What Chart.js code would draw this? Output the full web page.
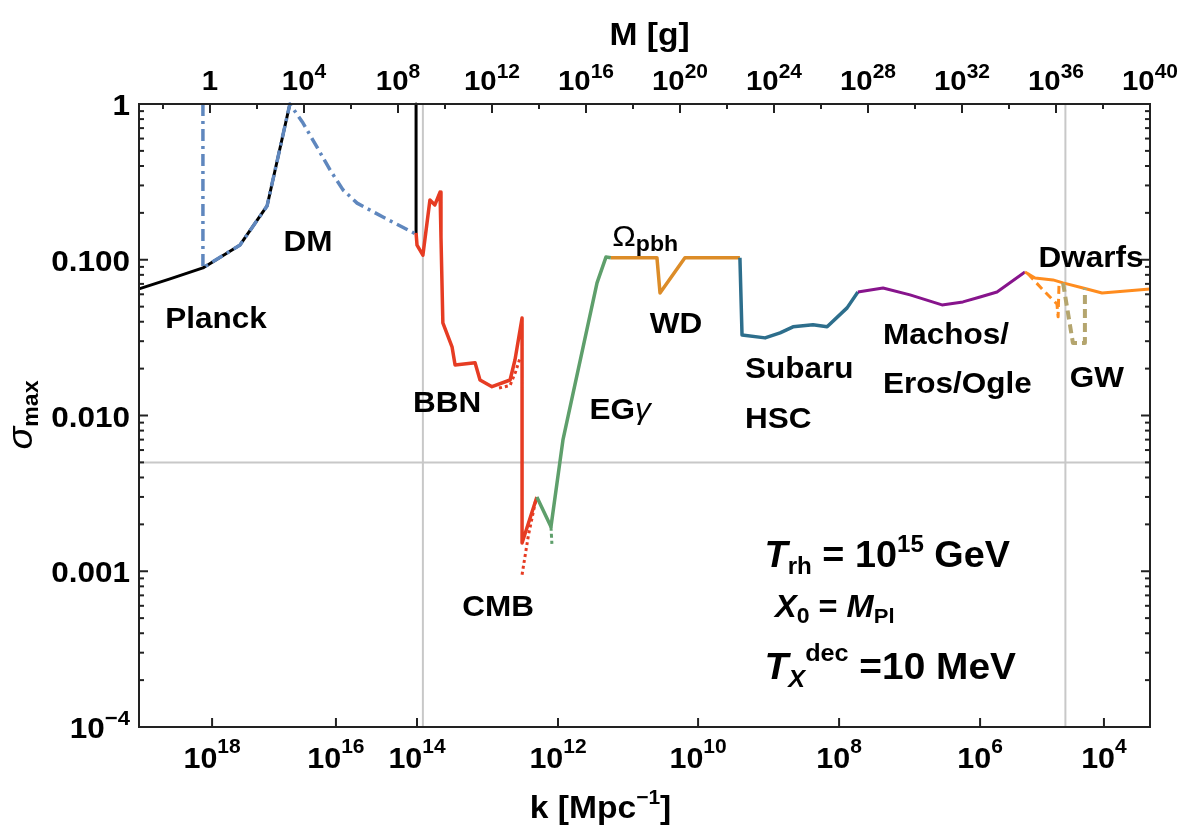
<!DOCTYPE html>
<html>
<head>
<meta charset="utf-8">
<script src="https://cdn.jsdelivr.net/npm/chart.js@4.4.1/dist/chart.umd.min.js"></script>
<style>
  html, body { margin: 0; padding: 0; background: #fff; }
  #wrap { width: 1200px; height: 840px; }
</style>
</head>
<body>
<div id="wrap"><canvas id="sigmaChart" width="1200" height="840"></canvas></div>
<script>
// x values are log10(M / g), y values are sigma_max
const planckLogM = [-3.02, -1.70, -0.30, 1.28, 2.43, 3.40];
const planckSigma = [0.065, 0.0753, 0.0886, 0.1245, 0.2215, 1.0];

const cutoffLogM = [8.77, 8.77];
const cutoffSigma = [1.0, 0.149];

const dmLogM = [-0.30, -0.30, 1.28, 2.43, 3.40, 3.96, 4.55, 5.11, 5.66, 6.26, 7.36, 8.77];
const dmSigma = [1.0, 0.0886, 0.1245, 0.2215, 1.0, 0.755, 0.53, 0.377, 0.281, 0.231, 0.188, 0.146];

const bbnLogM = [8.77, 8.81, 9.06, 9.36, 9.57, 9.79, 9.83, 9.91, 10.30, 10.43, 11.28, 11.49, 12.0, 12.77, 12.98, 13.28, 13.28, 13.91];
const bbnSigma = [0.149, 0.124, 0.107, 0.242, 0.225, 0.272, 0.140, 0.0393, 0.0276, 0.0211, 0.0218, 0.0169, 0.0153, 0.0169, 0.0228, 0.0423, 0.00152, 0.0030];

const bbnDotLogM = [12.3, 12.77, 13.0, 13.2];
const bbnDotSigma = [0.0150, 0.0156, 0.0190, 0.0235];

const cmbDotLogM = [13.28, 13.55, 13.85];
const cmbDotSigma = [0.00095, 0.0017, 0.0028];

const egLogM = [13.91, 14.51, 15.02, 16.47, 16.85, 17.06];
const egSigma = [0.0030, 0.00193, 0.00697, 0.0710, 0.104, 0.103];

const egDashLogM = [14.51, 14.55];
const egDashSigma = [0.00193, 0.00150];

const omegaLogM = [17.06, 19.02, 19.15, 20.21, 22.55];
const omegaSigma = [0.103, 0.103, 0.0612, 0.103, 0.103];

const subaruLogM = [22.55, 22.64, 23.62, 24.26, 24.81, 25.66, 26.26, 27.11, 27.57];
const subaruSigma = [0.103, 0.0329, 0.0315, 0.0339, 0.0371, 0.0382, 0.0371, 0.0491, 0.0621];

const machoLogM = [27.57, 28.64, 29.79, 31.15, 32.04, 32.77, 33.49, 34.68];
const machoSigma = [0.0621, 0.0659, 0.0595, 0.0513, 0.0536, 0.0577, 0.0621, 0.0835];

const dwarfLogM = [34.68, 35.11, 35.87, 36.30, 37.15, 37.96, 40.0];
const dwarfSigma = [0.0835, 0.0764, 0.0742, 0.0710, 0.0659, 0.0612, 0.0650];

const dwarfDashLogM = [34.80, 35.45, 36.04, 36.09, 36.13];
const dwarfDashSigma = [0.0815, 0.0639, 0.0520, 0.0430, 0.0710];

const gwLogM = [36.30, 36.72, 37.23, 37.23];
const gwSigma = [0.0710, 0.0292, 0.0292, 0.0659];

// axes: top axis is M, bottom axis is k (placed at the matching M)
const massTickExp = [0, 4, 8, 12, 16, 20, 24, 28, 32, 36, 40];
const massMinorExp = [-2, 2, 6, 10, 14, 18, 22, 26, 30, 34, 38];
const kTickExp = [18, 16, 14, 12, 10, 8, 6, 4];
const kTickLogM = [0.09, 5.36, 8.81, 14.81, 20.77, 26.77, 32.77, 38.04];
const sigmaTicks = [1, 0.1, 0.01, 0.001, 0.0001];
const sigmaTickLabels = ['1', '0.100', '0.010', '0.001', null];

const guideLogM = [9.06, 36.4];
const guideSigma = [0.005];

const FONT = '"Liberation Sans", Arial, sans-serif';
const SX = 1.05;
const b = s => `bold ${s}px ${FONT}`;
const bi = s => `italic bold ${s}px ${FONT}`;

function runsWidth(ctx, runs) {
    let w = 0;
    runs.forEach(r => { ctx.font = r.font; w += ctx.measureText(r.text).width; });
    return w * SX;
}

function drawRuns(ctx, runs, x, y, align) {
    const w = runsWidth(ctx, runs);
    let x0 = x;
    if (align === 'center') x0 = x - w / 2;
    if (align === 'right') x0 = x - w;
    ctx.save();
    ctx.translate(x0, y);
    ctx.scale(SX, 1);
    ctx.textAlign = 'left';
    ctx.textBaseline = 'alphabetic';
    ctx.fillStyle = '#000';
    let cx = 0;
    runs.forEach(r => {
        ctx.font = r.font;
        ctx.fillText(r.text, cx, r.dy || 0);
        cx += ctx.measureText(r.text).width;
    });
    ctx.restore();
}

function pow10(n, base, sup, rise) {
    if (n === 0) return [{ text: '1', font: b(base) }];
    return [
        { text: '10', font: b(base) },
        { text: String(n).replace('-', '\u2212'), font: b(sup), dy: -rise }
    ];
}

const labels = [
    { at: [0.26, 0.0365], align: 'center', runs: [{ text: 'Planck', font: b(30) }] },
    { at: [4.17, 0.1138], align: 'center', runs: [{ text: 'DM', font: b(30) }] },
    { at: [10.09, 0.01052], align: 'center', runs: [{ text: 'BBN', font: b(30) }] },
    { at: [12.26, 0.000516], align: 'center', runs: [{ text: 'CMB', font: b(30) }] },
    { at: [17.45, 0.0095], align: 'center', runs: [{ text: 'EG', font: b(30) }, { text: '\u03b3', font: `italic 30px ${FONT}` }] },
    { at: [17.12, 0.1226], align: 'left', runs: [{ text: '\u03a9', font: `30px ${FONT}` }, { text: 'pbh', font: b(22), dy: 5 }] },
    { at: [19.83, 0.0339], align: 'center', runs: [{ text: 'WD', font: b(30) }] },
    { at: [22.77, 0.0174], align: 'left', runs: [{ text: 'Subaru', font: b(30) }] },
    { at: [22.77, 0.00831], align: 'left', runs: [{ text: 'HSC', font: b(30) }] },
    { at: [28.64, 0.0288], align: 'left', runs: [{ text: 'Machos/', font: b(30) }] },
    { at: [28.64, 0.01394], align: 'left', runs: [{ text: 'Eros/Ogle', font: b(30) }] },
    { at: [37.49, 0.0898], align: 'center', runs: [{ text: 'Dwarfs', font: b(30) }] },
    { at: [37.74, 0.01524], align: 'center', runs: [{ text: 'GW', font: b(30) }] },
    { at: [23.6, 0.001064], align: 'left', runs: [
        { text: 'T', font: bi(36) }, { text: 'rh', font: b(23), dy: 7 },
        { text: ' = 10', font: b(36) }, { text: '15', font: b(23), dy: -15 },
        { text: ' GeV', font: b(36) }] },
    { at: [24.04, 0.000508], align: 'left', runs: [
        { text: 'X', font: bi(31) }, { text: '0', font: b(22), dy: 6 },
        { text: ' = ', font: b(31) }, { text: 'M', font: bi(31) },
        { text: 'Pl', font: b(21), dy: 6 }] },
    { at: [23.6, 0.000203], align: 'left', runs: [
        { text: 'T', font: bi(37) }, { text: 'X', font: bi(24), dy: 8 },
        { text: 'dec', font: b(24), dy: -18 }, { text: ' =10 MeV', font: b(37) }] }
];

function series(logM, sigma, color, width, dash) {
    return {
        data: logM.map((v, i) => ({ x: v, y: sigma[i] })),
        showLine: true,
        borderColor: color,
        borderWidth: width,
        borderDash: dash || [],
        borderJoinStyle: 'round',
        pointRadius: 0,
        fill: false,
        clip: 4
    };
}

const red = '#e63c23';
const datasets = [
    series(gwLogM, gwSigma, '#b4a56e', 4, [9, 5]),
    series(dwarfDashLogM, dwarfDashSigma, '#ff8c1e', 3, [8, 5]),
    series(dwarfLogM, dwarfSigma, '#ff8c1e', 3),
    series(machoLogM, machoSigma, '#87148c', 3),
    series(subaruLogM, subaruSigma, '#2d6e8c', 3.5),
    series(omegaLogM, omegaSigma, '#dc8c28', 3.5),
    series(egDashLogM, egDashSigma, '#5e9f6b', 3, [4, 3]),
    series(egLogM, egSigma, '#5e9f6b', 3.5),
    series(cmbDotLogM, cmbDotSigma, red, 3, [3, 3]),
    series(bbnDotLogM, bbnDotSigma, red, 3, [3, 3]),
    series(bbnLogM, bbnSigma, red, 3.5),
    series(dmLogM, dmSigma, '#5f87be', 3.5, [12, 5, 3, 5]),
    series(planckLogM, planckSigma, '#000', 3),
    series(cutoffLogM, cutoffSigma, '#000', 3)
];

function seg(ctx, x1, y1, x2, y2) {
    ctx.beginPath();
    ctx.moveTo(x1, y1);
    ctx.lineTo(x2, y2);
    ctx.stroke();
}

const guidePlugin = {
    id: 'guides',
    beforeDatasetsDraw(chart) {
        const { ctx, chartArea: a, scales: { x, y } } = chart;
        ctx.save();
        ctx.strokeStyle = '#c8c8c8';
        ctx.lineWidth = 2;
        guideLogM.forEach(v => { const px = x.getPixelForValue(v); seg(ctx, px, a.top, px, a.bottom); });
        guideSigma.forEach(v => { const py = y.getPixelForValue(v); seg(ctx, a.left, py, a.right, py); });
        ctx.restore();
    }
};

const framePlugin = {
    id: 'frame',
    afterDraw(chart) {
        const { ctx, chartArea: a, scales: { x, y } } = chart;
        ctx.save();
        ctx.strokeStyle = '#222';
        ctx.lineWidth = 2;
        ctx.strokeRect(a.left, a.top, a.right - a.left, a.bottom - a.top);

        // top axis (M)
        massTickExp.forEach(e => {
            const px = x.getPixelForValue(e);
            seg(ctx, px, a.top, px, a.top + 9);
            drawRuns(ctx, pow10(e, 28, 20, 12), px, a.top - 14, 'center');
        });
        massMinorExp.forEach(e => {
            const px = x.getPixelForValue(e);
            seg(ctx, px, a.top, px, a.top + 5);
        });

        // bottom axis (k)
        kTickLogM.forEach((v, i) => {
            const px = x.getPixelForValue(v);
            seg(ctx, px, a.bottom, px, a.bottom - 9);
            drawRuns(ctx, pow10(kTickExp[i], 29, 20, 15), px, a.bottom + 41, 'center');
        });

        // left and right axes (sigma)
        for (let e = -4; e <= 0; e++) {
            for (let m = 1; m <= 9; m++) {
                const v = m * Math.pow(10, e);
                if (v > 1) break;
                const py = y.getPixelForValue(v);
                const len = m === 1 ? 9 : 5;
                seg(ctx, a.left, py, a.left + len, py);
                seg(ctx, a.right, py, a.right - len, py);
            }
        }
        sigmaTicks.forEach((v, i) => {
            const py = y.getPixelForValue(v);
            const runs = sigmaTickLabels[i] ? [{ text: sigmaTickLabels[i], font: b(30) }] : pow10(-4, 30, 21, 13);
            drawRuns(ctx, runs, a.left - 9, py + 11, 'right');
        });

        // axis titles
        const cxm = (a.left + a.right) / 2;
        drawRuns(ctx, [{ text: 'M [g]', font: b(32) }], cxm + 5, 45, 'center');
        drawRuns(ctx, [{ text: 'k [Mpc', font: b(32) }, { text: '\u22121', font: b(20), dy: -14 }, { text: ']', font: b(32) }], cxm - 44, 818, 'center');
        ctx.save();
        ctx.translate(32, 415);
        ctx.rotate(-Math.PI / 2);
        drawRuns(ctx, [{ text: '\u03c3', font: `italic 36px ${FONT}` }, { text: 'max', font: b(22), dy: 6 }], 0, 0, 'center');
        ctx.restore();

        // curve labels and parameters
        labels.forEach(l => {
            drawRuns(ctx, l.runs, x.getPixelForValue(l.at[0]), y.getPixelForValue(l.at[1]), l.align);
        });
        ctx.restore();
    }
};

new Chart(document.getElementById('sigmaChart'), {
    type: 'scatter',
    data: { datasets },
    options: {
        responsive: false,
        animation: false,
        layout: { padding: { left: 139, right: 50, top: 104, bottom: 113 } },
        plugins: { legend: { display: false }, tooltip: { enabled: false } },
        scales: {
            x: { type: 'linear', min: -3.02, max: 40, display: false },
            y: { type: 'logarithmic', min: 0.0001, max: 1, display: false }
        }
    },
    plugins: [guidePlugin, framePlugin]
});
</script>
</body>
</html>
